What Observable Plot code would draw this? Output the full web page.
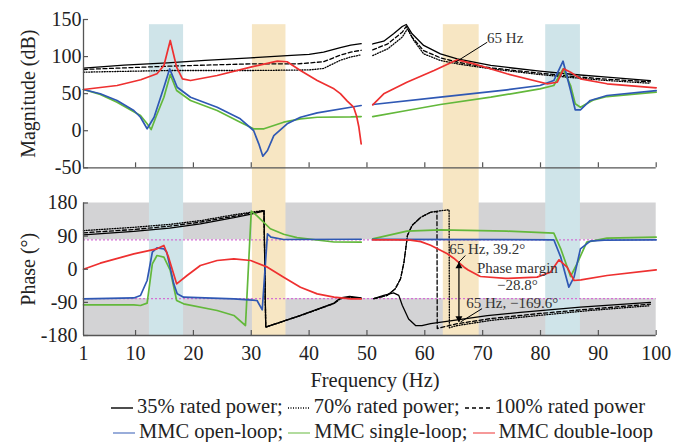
<!DOCTYPE html>
<html><head><meta charset="utf-8">
<script src="https://cdn.jsdelivr.net/npm/d3@7"></script>
<script src="https://cdn.jsdelivr.net/npm/@observablehq/plot@0.6"></script>
<style>
html,body{margin:0;padding:0;background:#fff;}
#root{position:relative;width:686px;height:442px;font-family:"Liberation Serif","Times New Roman",serif;color:#222;overflow:hidden;}
#root > svg{display:block;}
.xlabel{position:absolute;left:64px;width:622px;top:368px;text-align:center;font-size:20.5px;line-height:24px;}
.leg{position:absolute;width:610px;text-align:center;font-size:20.5px;line-height:25px;white-space:nowrap;}
#root .leg svg{display:inline-block;vertical-align:middle;margin-right:4px;}
</style>
</head><body><div id="root"></div>
<script>
// ---------- data ----------
const freqTicks = [10, 20, 30, 40, 50, 60, 70, 80, 90, 100];
const freqLabels = [1, 10, 20, 30, 40, 50, 60, 70, 80, 90, 100];
const magTicks = [-50, 0, 50, 100, 150];
const phaseTicks = [-180, -90, 0, 90, 180];
const blueBands = [[12.4, 18.3], [80.9, 86.9]];
const orangeBands = [[30.2, 36.0], [63.2, 69.4]];
const grayZones = [[80, 180], [-180, -80]];
const marginLines = [80, -80];

// Magnitude (dB): [Hz, dB]; NaN = gap at 50 Hz
const mag35 = [[1,84.3],[8,88.5],[15.5,91.6],[22,95],[29.9,98.3],[36.2,101.4],[40,103],[42.5,105.9],[45.4,112],[47.2,115.5],[49,117.5],[50,NaN],[51,117],[52.9,120.8],[54.6,130.7],[56.1,140.6],[56.8,143.3],[57.8,130.7],[59.8,115],[62.7,103.7],[65.6,97],[71.4,88],[79.9,80.3],[85.8,75.8],[91.5,72.2],[99,67.7]];
const mag70 = [[1,79],[15.5,81.2],[29.9,81.2],[40,82],[42.5,84],[45.4,95],[47.2,99.5],[49,102.4],[50,NaN],[51,101.4],[53.6,110.5],[56.1,126.2],[57,137.4],[58.1,121.7],[59.8,103.7],[62.7,94.7],[65.6,90.2],[71.4,83.5],[79.9,75.8],[85.8,71.4],[91.5,67.7],[99,64]];
const mag100 = [[1,82.6],[15.5,87],[29.9,90.2],[38,90.2],[42.5,93],[45.4,102],[47.2,106],[49,108.5],[50,NaN],[51,109],[53.6,117.2],[56.1,132.9],[56.8,140.6],[57.8,126.2],[59.8,108],[62.7,98.3],[65.6,92.4],[71.4,84.8],[79.9,77.6],[85.8,73.1],[91.5,69.5],[99,66]];
const magOpen = [[1,55.6],[3.9,49.8],[6.8,40.8],[9.7,27.3],[10.85,18.2],[12.0,2.6],[13.2,18.2],[14.9,58.7],[15.9,83.5],[17.2,58.7],[19.5,45.2],[24.1,31.7],[28.1,16],[30.4,0.3],[31.3,-17.7],[32.0,-34.4],[32.8,-26.7],[33.9,-6.5],[36.2,9.3],[38.5,18.2],[41.4,24.1],[47.2,31.7],[49,34],[50,NaN],[51,35.4],[62.7,45.2],[74.2,55.2],[79.9,61],[82.3,67.7],[83.9,93.8],[85.2,54.2],[86,28.2],[86.9,28.2],[88.6,40.8],[91.5,47.5],[100,54.2]];
const magSingle = [[1,55.6],[3.9,49],[6.8,38.5],[10.85,20.5],[12.0,9.3],[12.7,1.6],[13.5,18.2],[14.9,45.2],[16.0,75.8],[17.1,54.2],[19.5,40.8],[24.1,27.3],[28.1,11.5],[30.4,2.6],[32.2,2.6],[35.6,11.5],[38.5,16],[41.4,18.2],[47.2,18.6],[49,19.1],[50,NaN],[51,19.1],[56.9,27.3],[62.7,35.4],[71.4,45.2],[79.9,56.5],[82.3,61],[83.9,83.5],[85.2,61],[86,36.3],[86.9,31.7],[89.2,41.7],[91.5,46.1],[100,52]];
const magDouble = [[1,55.6],[6.8,61],[10.9,68.7],[13.7,76.8],[14.9,88],[16.0,121.7],[17.1,85.7],[18.1,70],[19.5,67.7],[24.1,74.5],[29.9,85.7],[34.5,93.8],[36.2,93],[38.5,81.2],[41.4,67.7],[44.3,56.5],[45.4,50],[46.6,40],[47.7,31.7],[48.2,20],[48.6,5],[49,-17.7],[50,NaN],[51,34.9],[52.9,49.8],[56.9,65.4],[61.6,81.2],[65.6,95.6],[68.5,90.2],[74.2,76.8],[81.1,63.3],[82.9,65.4],[84,83.5],[85.2,79],[86.9,70],[91.5,63.3],[100,57.9]];

// Phase (deg): [Hz, deg]
const ph35 = [[1,93.6],[9.7,103],[15.9,112],[21.2,123],[27,140],[30,150],[32.2,158],[32.5,-157],[38.5,-125.6],[44.3,-92],[45.4,-78],[47,-74],[49,-78],[50,NaN],[51.2,-80],[52.9,-71],[54.6,-64],[55.5,-71],[56.1,-98],[57.2,-135],[58.4,-153],[59.5,-153],[61,-148],[64.4,-140],[70.8,-126],[76.5,-117],[86.9,-103],[99,-90]];
const ph70 = [[1,105],[9.7,114],[15.9,122],[21.2,132],[27,148],[30,155],[32.2,160],[32.5,-157],[38.5,-126],[44.3,-93],[45.4,-80],[47,-76],[49,-79],[50,NaN],[51.2,-80],[53.5,-71],[54.9,-53],[55.8,-26],[56.4,19],[57,92],[57.8,119],[59.3,141],[61,155],[62.7,159],[64.2,161.5],[64.25,-159],[65.6,-153],[71.4,-139],[80,-125],[88.6,-112],[99,-99]];
const ph100 = [[1,99],[9.7,108],[15.9,117],[21.2,128],[27,144],[30,153],[32.2,159],[32.5,-157],[38.5,-126],[44.3,-93],[45.4,-80],[47,-76],[49,-79],[50,NaN],[51.2,-80],[53.5,-71],[54.9,-53],[55.8,-26],[56.4,19],[57,92],[57.8,119],[59.3,141],[61,155],[62.1,157],[62.15,-161],[65.6,-148],[71.4,-134],[80,-120],[88.6,-108],[99,-95]];
const phOpen = [[1,-80.4],[9.7,-78],[10.85,-71.3],[12.0,-30.5],[12.9,46.4],[13.7,58.2],[14.9,55.5],[15.4,46],[16.6,-39.6],[17.2,-66.8],[18.3,-75.8],[27,-80.4],[31,-84.9],[31.9,-110.2],[32.8,96.2],[33.4,87.2],[35.6,80.8],[49,81.5],[50,NaN],[51,81],[82.3,80],[83.5,32.8],[84.9,-48.7],[85.8,-21.5],[86.9,55.5],[88.6,76.3],[91,79],[100,80]];
const phSingle = [[1,-96.7],[9.7,-97],[10.85,-98.5],[12.0,-92],[12.9,14.7],[13.7,37.4],[14.9,32.8],[16.0,-3.4],[17.1,-84.9],[18.3,-93.9],[24.1,-112],[27,-125.6],[29,-152.8],[30,158],[31,145],[33.3,110],[35.6,95],[37.9,86],[44.3,74],[49,73.5],[50,NaN],[51,82.6],[56.9,103.5],[62.7,107.1],[74.2,103.5],[82.3,98],[83.5,55.5],[85.2,-19.7],[86.3,14.7],[88,73.6],[91.5,84.5],[100,87.2]];
const phDouble = [[1,0],[3.9,16.5],[9.7,41.9],[13.7,55.5],[14.9,64.5],[15.7,32.8],[17.1,-39.6],[18.9,-17],[21.2,10.2],[24.1,23.8],[27,28.3],[29.9,23.8],[32.8,5.7],[35.6,-21.5],[38.5,-48.7],[41.4,-66.8],[44.3,-75.8],[47.2,-80.4],[49,-80.5],[50,NaN],[51,80],[55,80],[57.5,79],[59.3,75],[61,65],[63.9,42],[65,30],[66.8,5.6],[67.5,-2],[69.6,-19.7],[74,-25],[79.4,-21.5],[81.7,-8],[83.2,25.7],[84.6,5.6],[85.8,-30.6],[87,-29],[91.5,-17],[100,-1.6]];

// annotations
const magNotes = [{x: 73.9, y: 124.4, text: "65 Hz"}];
const magLeaders = [{x1: 65.3, y1: 92.4, x2: 70.8, y2: 119.4}];
const phaseNotes = [
  {x: 70.8, y: 55.6, text: "65 Hz, 39.2°"},
  {x: 76.0, y: 3, text: "Phase margin"},
  {x: 76.0, y: -43, text: "\u221228.8°"},
  {x: 75.1, y: -91, text: "65 Hz, \u2212169.6°"}
];
const phaseLeaders = [{x1: 65.9, y1: 19.2, x2: 67.0, y2: 37.4}, {x1: 66.2, y1: -143, x2: 69.9, y2: -107}];
const marginArrow = [{x: 65.9, top: 19.2, bottom: -143.8}];

// ---------- style ----------
const C = {blue: "#2f58b4", green: "#63b83b", red: "#ee3030", black: "#000",
  bandBlue: "#cfe4e9", bandOrange: "#f7e6c3", gray: "#d3d3d5", pink: "#d46fd4", axis: "#555", text: "#222", note: "#333"};
const font = '"Liberation Serif","Times New Roman",serif';
const xy = {x: d => d[0], y: d => d[1]};
const W = 686, mL = 83, mR = 30.3;

function curves(s35, s70, s100, sO, sS, sD) {
  return [
    Plot.line(s70, {...xy, stroke: C.black, strokeWidth: 1.3, strokeDasharray: "1,1.6"}),
    Plot.line(s100, {...xy, stroke: C.black, strokeWidth: 1.3, strokeDasharray: "4,2.5"}),
    Plot.line(s35, {...xy, stroke: C.black, strokeWidth: 1.3}),
    Plot.line(sS, {...xy, stroke: C.green, strokeWidth: 1.7}),
    Plot.line(sO, {...xy, stroke: C.blue, strokeWidth: 1.7}),
    Plot.line(sD, {...xy, stroke: C.red, strokeWidth: 1.7})
  ];
}

const root = document.getElementById("root");

// ---------- magnitude ----------
const magPlot = Plot.plot({
  width: W, height: 185,
  marginLeft: mL, marginRight: mR, marginTop: 19, marginBottom: 17.7,
  x: {domain: [1, 100], axis: null},
  y: {domain: [-50, 150]},
  style: {fontFamily: font, background: "white", overflow: "hidden", color: C.text},
  marks: [
    Plot.rect(blueBands, {x1: d => d[0], x2: d => d[1], y1: 143, y2: -90, fill: C.bandBlue}),
    Plot.rect(orangeBands, {x1: d => d[0], x2: d => d[1], y1: 143, y2: -90, fill: C.bandOrange}),
    ...curves(mag35, mag70, mag100, magOpen, magSingle, magDouble),
    Plot.link(magLeaders, {x1: "x1", y1: "y1", x2: "x2", y2: "y2", stroke: C.black, strokeWidth: 1}),
    Plot.text(magNotes, {x: "x", y: "y", text: "text", fontSize: 15, fill: C.note}),
    Plot.ruleX([1], {stroke: C.axis, strokeWidth: 1.3}),
    Plot.ruleY([-50], {stroke: C.axis, strokeWidth: 1.3}),
    Plot.ruleY(magTicks, {y: d => d, x1: 1, x2: 1.86, stroke: C.axis, strokeWidth: 1.2}),
    Plot.ruleX(freqTicks, {x: d => d, y1: -50, y2: -43.3, stroke: C.axis, strokeWidth: 1.2}),
    Plot.axisY(magTicks, {tickSize: 0, tickPadding: 2, tickFormat: d => String(d), fontSize: 20, fill: C.text, label: null}),
    Plot.text(["Magnitude (dB)"], {frameAnchor: "left", textAnchor: "middle", lineAnchor: "middle", dx: -54.5, rotate: -90, fontSize: 20, fill: C.text})
  ]
});
root.appendChild(magPlot);

// ---------- phase ----------
const phPlot = Plot.plot({
  width: W, height: 185,
  marginLeft: mL, marginRight: mR, marginTop: 17.5, marginBottom: 35,
  x: {domain: [1, 100]},
  y: {domain: [-180, 180]},
  style: {fontFamily: font, background: "white", overflow: "hidden", color: C.text},
  marks: [
    Plot.rect(grayZones, {x1: 1, x2: 100, y1: d => d[0], y2: d => d[1], fill: C.gray}),
    Plot.rect(blueBands, {x1: d => d[0], x2: d => d[1], y1: -180, y2: 260, fill: C.bandBlue}),
    Plot.rect(orangeBands, {x1: d => d[0], x2: d => d[1], y1: -180, y2: 260, fill: C.bandOrange}),
    Plot.ruleY(marginLines, {y: d => d, stroke: C.pink, strokeWidth: 1.3, strokeDasharray: "2,2"}),
    ...curves(ph35, ph70, ph100, phOpen, phSingle, phDouble),
    Plot.ruleX(marginArrow, {x: "x", y1: "top", y2: "bottom", stroke: C.black, strokeWidth: 1.2}),
    Plot.dot(marginArrow, {x: "x", y: "top", symbol: "triangle", r: 2.6, fill: C.black, stroke: null, dy: 4}),
    Plot.dot(marginArrow, {x: "x", y: "bottom", symbol: "triangle", r: 2.6, fill: C.black, stroke: null, rotate: 180, dy: -4}),
    Plot.link(phaseLeaders, {x1: "x1", y1: "y1", x2: "x2", y2: "y2", stroke: C.black, strokeWidth: 1}),
    Plot.text(phaseNotes, {x: "x", y: "y", text: "text", fontSize: 15, fill: C.note}),
    Plot.ruleX([1], {stroke: C.axis, strokeWidth: 1.3}),
    Plot.ruleY([-180], {stroke: C.axis, strokeWidth: 1.3}),
    Plot.ruleY(phaseTicks, {y: d => d, x1: 1, x2: 1.86, stroke: C.axis, strokeWidth: 1.2}),
    Plot.ruleX(freqTicks, {x: d => d, y1: -180, y2: -166.4, stroke: C.axis, strokeWidth: 1.2}),
    Plot.axisY(phaseTicks, {tickSize: 0, tickPadding: 6, tickFormat: d => String(d), fontSize: 20, fill: C.text, label: null}),
    Plot.axisX(freqLabels, {tickSize: 0, tickPadding: 10.5, tickFormat: d => String(d), fontSize: 20, fill: C.text, label: null}),
    Plot.text(["Phase (°)"], {frameAnchor: "left", textAnchor: "middle", lineAnchor: "middle", dx: -55, rotate: -90, fontSize: 20, fill: C.text})
  ]
});
root.appendChild(phPlot);

// ---------- x label and legend ----------
const xl = document.createElement("div");
xl.className = "xlabel";
xl.textContent = "Frequency (Hz)";
root.appendChild(xl);

function sample(color, dash, width, opacity) {
  const w = width || 22;
  return `<svg width="${w}" height="10"><line x1="0" x2="${w}" y1="5" y2="5" stroke="${color}" stroke-width="1.4" ${dash ? `stroke-dasharray="${dash}"` : ""} ${opacity ? `stroke-opacity="${opacity}"` : ""}/></svg>`;
}
const legendRows = [
  {top: 393.5, center: 378, items: [
    {color: C.black, dash: null, label: "35% rated power;"},
    {color: C.black, dash: "1,1.5", label: "70% rated power;"},
    {color: C.black, dash: "4,3", label: "100% rated power", width: 26}
  ]},
  {top: 418.5, center: 383, items: [
    {color: C.blue, dash: null, label: "MMC open-loop;", opacity: 0.7},
    {color: C.green, dash: null, label: "MMC single-loop;", opacity: 0.7},
    {color: C.red, dash: null, label: "MMC double-loop", opacity: 0.7}
  ]}
];
for (const row of legendRows) {
  const div = document.createElement("div");
  div.className = "leg";
  div.style.top = row.top + "px";
  div.style.left = (row.center - 305) + "px";
  div.innerHTML = row.items.map(it => `${sample(it.color, it.dash, it.width, it.opacity)}${it.label}`).join(" ");
  root.appendChild(div);
}
</script>
</body></html>
